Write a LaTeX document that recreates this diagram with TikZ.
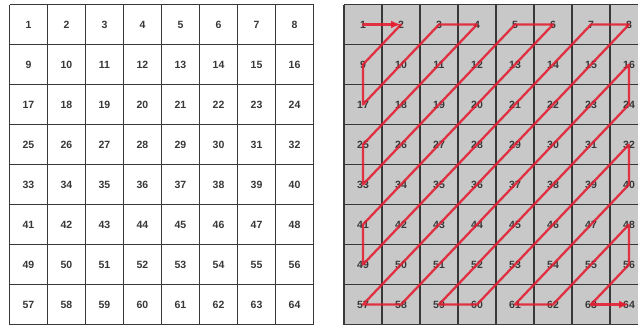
\documentclass[tikz,border=0pt]{standalone}
\usepackage{fontspec}
\setmainfont{Liberation Sans}
\usetikzlibrary{arrows.meta}
\definecolor{scanred}{RGB}{228,28,48}
\definecolor{cellgray}{RGB}{200,200,200}
\begin{document}
\begin{tikzpicture}[x=1pt,y=-1pt,
  gridline/.style={draw=black!78,line width=1.7pt},
  numlabel/.style={font=\fontsize{10.5}{10.5}\selectfont\bfseries,text=black!78,inner sep=0pt},
  redline/.style={draw=scanred,line width=2.3pt,opacity=0.88,line join=round,line cap=round},
  redarrow/.style={redline,-{Latex[length=10pt,width=8pt]}}]
\useasboundingbox (0,0) rectangle (638,327);
\clip (0,0) rectangle (638,327);
\fill[white] (0,0) rectangle (638,327);
% left grid
\fill[white] (9.5,4.5) rectangle (313.5,324.5);
\foreach \i in {0,...,8} {
  \draw[gridline] (9.5+38*\i,4.5) -- (9.5+38*\i,324.5);
  \draw[gridline] (9.5,4.5+40*\i) -- (313.5,4.5+40*\i);
}
% right grid
\fill[cellgray] (344,4.5) rectangle (648,324.5);
\foreach \i in {0,...,8} {
  \draw[gridline] (344+38*\i,4.5) -- (344+38*\i,324.5);
  \draw[gridline] (344,4.5+40*\i) -- (648,4.5+40*\i);
}
% labels
\foreach \n in {1,...,64} {
  \pgfmathtruncatemacro{\r}{int((\n-1)/8)}
  \pgfmathtruncatemacro{\c}{mod(\n-1,8)}
  \node[numlabel] (L-\n) at (28.5+38*\c,24.5+40*\r) {\n};
  \node[numlabel] (R-\n) at (363+38*\c,24.5+40*\r) {\n};
}
% zigzag scan
\draw[redarrow] (R-1.center) -- (R-2.center);
\draw[redline] (R-2.center) -- (R-9.center) -- (R-17.center) -- (R-10.center) -- (R-3.center)
  -- (R-4.center) -- (R-11.center) -- (R-18.center) -- (R-25.center) -- (R-33.center)
  -- (R-26.center) -- (R-19.center) -- (R-12.center) -- (R-5.center) -- (R-6.center)
  -- (R-13.center) -- (R-20.center) -- (R-27.center) -- (R-34.center) -- (R-41.center)
  -- (R-49.center) -- (R-42.center) -- (R-35.center) -- (R-28.center) -- (R-21.center)
  -- (R-14.center) -- (R-7.center) -- (R-8.center) -- (R-15.center) -- (R-22.center)
  -- (R-29.center) -- (R-36.center) -- (R-43.center) -- (R-50.center) -- (R-57.center)
  -- (R-58.center) -- (R-51.center) -- (R-44.center) -- (R-37.center) -- (R-30.center)
  -- (R-23.center) -- (R-16.center) -- (R-24.center) -- (R-31.center) -- (R-38.center)
  -- (R-45.center) -- (R-52.center) -- (R-59.center) -- (R-60.center) -- (R-53.center)
  -- (R-46.center) -- (R-39.center) -- (R-32.center) -- (R-40.center) -- (R-47.center)
  -- (R-54.center) -- (R-61.center) -- (R-62.center) -- (R-55.center) -- (R-48.center)
  -- (R-56.center) -- (R-63.center);
\draw[redarrow] (R-63.center) -- (R-64.center);
\end{tikzpicture}
\end{document}
